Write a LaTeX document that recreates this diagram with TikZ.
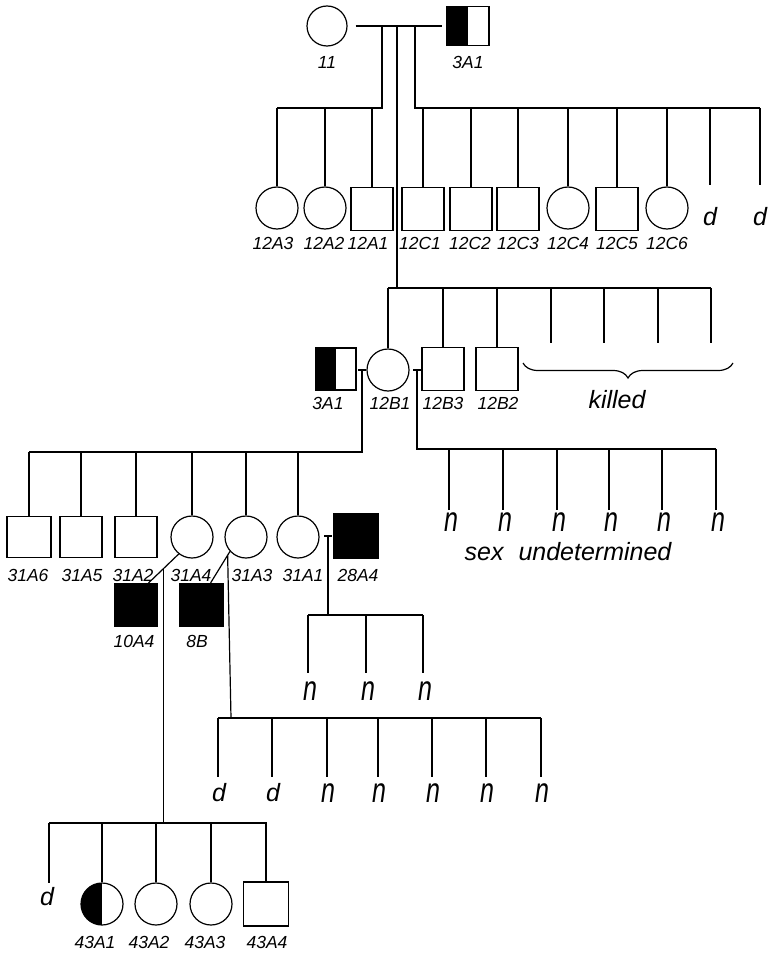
\documentclass[tikz,border=0pt]{standalone}
\usepackage{fontspec}
\setmainfont{Liberation Sans}
\usepackage{graphicx}
\usetikzlibrary{decorations.pathreplacing,calc}
\newcommand{\tn}{\scalebox{1}[1.4]{n}}
\begin{document}
\begin{tikzpicture}[x=1pt,y=-1pt,line width=1.2pt,
  fem/.style={circle,draw,minimum size=42pt,inner sep=0pt},
  mal/.style={rectangle,draw,minimum width=42pt,minimum height=43pt,inner sep=0pt},
  aff/.style={fill=black},
  half/.style={path picture={\fill[black] (path picture bounding box.south west) rectangle (path picture bounding box.north);}},
  lab/.style={font=\fontsize{17.5}{17.5}\selectfont\itshape,inner sep=0pt},
  letr/.style={font=\fontsize{25}{25}\selectfont\itshape,inner sep=0pt,anchor=north},
  bigtxt/.style={font=\fontsize{25}{25}\selectfont\itshape,inner sep=0pt},
  tick/.style={line width=1.2pt}]
\useasboundingbox (0,0) rectangle (775,955);
% ---------- generation 1
\node[fem,minimum size=40pt] (p11) at (327,26) {};
\node[mal,half,minimum height=39pt] (p3A1) at (468,26) {};
\node[lab] (l11) at (327,62) {11};
\node[lab] (l3A1) at (468,62) {3A1};
\draw ([xshift=8pt]p11.east) -- ([xshift=-4pt]p3A1.west);
\coordinate (a1) at (382,27);
\coordinate (a2) at (397,27);
\coordinate (a3) at (415,27);
\coordinate (sL) at (277,108);
\coordinate (sR) at (760,108);
\draw (a1) -- (a1 |- sL) -- (sL);
\draw (a3) -- (a3 |- sR) -- (sR);
% ---------- generation 2
\node[fem] (p12A3) at (277,208) {};
\node[fem] (p12A2) at (325,208) {};
\node[mal] (p12A1) at (372,209) {};
\node[mal] (p12C1) at (423,209) {};
\node[mal] (p12C2) at (471,209) {};
\node[mal] (p12C3) at (518,209) {};
\node[fem] (p12C4) at (568,208) {};
\node[mal] (p12C5) at (617,209) {};
\node[fem] (p12C6) at (667,208) {};
\node[letr] (d1) at (710,207) {d};
\node[letr] (d2) at (760,207) {d};
\foreach \n in {12A3,12A2,12A1}{\draw (p\n |- sL) -- (p\n);}
\foreach \n in {12C1,12C2,12C3,12C4,12C5,12C6}{\draw (p\n |- sR) -- (p\n);}
\foreach \n in {d1,d2}{\draw (\n |- sR) -- ([yshift=22pt]\n.north);}
\foreach \n/\x in {12A3/273,12A2/324,12A1/368,12C1/420,12C2/470,12C3/518,12C4/568,12C5/617,12C6/667}{
  \node[lab] (l\n) at (\x,243) {\n};}
% ---------- generation 3
\coordinate (s3L) at (388,288);
\coordinate (s3R) at (711,288);
\draw (a2) -- (a2 |- s3L);
\draw (s3L) -- (s3R);
\node[mal,half,minimum width=40pt,minimum height=42pt] (q3A1) at (336,369) {};
\node[fem] (p12B1) at (388,370) {};
\node[mal] (p12B3) at (443,369) {};
\node[mal] (p12B2) at (497,369) {};
\foreach \n in {12B1,12B3,12B2}{\draw (p\n |- s3L) -- (p\n);}
\foreach \i/\x in {1/551,2/604,3/658,4/711}{
  \coordinate (k\i) at (\x,343);
  \draw (k\i |- s3L) -- (k\i);}
\coordinate (b1) at (523,363);
\coordinate (b2) at (733,363);
\draw[decorate,decoration={brace,mirror,amplitude=15pt,aspect=0.5}] (b1) -- (b2);
\node[bigtxt] (killed) at (617,400) {killed};
\node[lab] (lq3A1) at (328,403) {3A1};
\node[lab] (l12B1) at (390,403) {12B1};
\node[lab] (l12B3) at (443,403) {12B3};
\node[lab] (l12B2) at (498,403) {12B2};
% matings of generation 3
\coordinate (T1) at (362,370);
\coordinate (T2) at (417,370);
\coordinate (s4L) at (29,452);
\coordinate (s4R) at (716,449);
\draw[tick] ([xshift=-4pt]T1) -- ([xshift=4pt]T1);
\draw[tick] ([xshift=-4pt]T2) -- ([xshift=4pt]T2);
\draw (T1) -- (T1 |- s4L) -- (s4L);
\draw (T2) -- (T2 |- s4R) -- (s4R);
% ---------- generation 4 (left)
\node[mal,minimum width=44pt,minimum height=41pt] (p31A6) at (29,537) {};
\node[mal,minimum height=41pt] (p31A5) at (81,537) {};
\node[mal,minimum height=41pt] (p31A2) at (136,537) {};
\node[fem] (p31A4) at (192,537) {};
\node[fem] (p31A3) at (246,537) {};
\node[fem] (p31A1) at (298,537) {};
\node[mal,aff,minimum width=44pt,minimum height=44pt] (p28A4) at (356,536) {};
\foreach \n in {31A6,31A5,31A2,31A4,31A3,31A1}{\draw (p\n |- s4L) -- (p\n);}
\foreach \n/\x in {31A6/28,31A5/82,31A2/133,31A4/191,31A3/252,31A1/303,28A4/358}{
  \node[lab] (l\n) at (\x,575) {\n};}
% ---------- generation 4 (right)
\foreach \i/\x in {1/449,2/503,3/557,4/609,5/662,6/716}{
  \node[letr] (n\i) at (\x+2,512) {\tn};
  \draw (\x,449) coordinate (c\i) -- ([yshift=2pt]n\i.north -| c\i);}
\node[bigtxt] (sexu) at (568,552) {sex\hspace{0.6em}undetermined};
% mating 31A1 x 28A4
\coordinate (T3) at (328,536);
\coordinate (s5a) at (308,615);
\coordinate (s5b) at (423,615);
\draw[tick] ([xshift=-4pt]T3) -- ([xshift=4pt]T3);
\draw (T3) -- (T3 |- s5a);
\draw (s5a) -- (s5b);
\foreach \i/\x in {1/308,2/366,3/423}{
  \node[letr] (m\i) at (\x+2,681) {\tn};
  \draw (\x,615) coordinate (e\i) -- ([yshift=8pt]m\i.north -| e\i);}
% spouses 10A4 and 8B
\node[mal,aff] (p10A4) at (136,605) {};
\node[mal,aff,minimum width=43pt] (p8B) at (201.5,605) {};
\node[lab] (l10A4) at (134,641) {10A4};
\node[lab] (l8B) at (197,641) {8B};
\draw (p31A4.232) -- ([xshift=-9pt]p10A4.north east);
\draw (p31A3.222) -- ([xshift=-13pt]p8B.north east);
\coordinate (mid1) at ($(p31A4.232)!0.5!([xshift=-9pt]p10A4.north east)$);
\coordinate (mid2) at ($(p31A3.222)!0.12!([xshift=-13pt]p8B.north east)$);
% offspring of 31A3 x 8B
\coordinate (s7L) at (218,718);
\coordinate (s7R) at (541,718);
\coordinate (j7) at (231,718);
\draw (mid2) -- (j7);
\draw (s7L) -- (s7R);
\foreach \i/\x/\t in {1/218/d,2/272/d,3/327/\tn,4/378/\tn,5/432/\tn,6/486/\tn,7/541/\tn}{
  \node[letr] (o\i) at (\x+1,783) {\t};
  \draw (\x,718) coordinate (f\i) -- ([yshift=6pt]o\i.north -| f\i);}
% ---------- generation 5
\coordinate (s6L) at (49,823);
\coordinate (s6R) at (267,823);
\draw (mid1) -- (mid1 |- s6L);
\draw (s6L) -- (s6R);
\node[letr] (d5) at (47,887) {d};
\draw (s6L) -- ([yshift=4pt]d5.north -| s6L);
\node[fem,half] (p43A1) at (102,904) {};
\node[fem] (p43A2) at (156,904) {};
\node[fem] (p43A3) at (211,904) {};
\node[mal,minimum width=45pt,minimum height=44pt] (p43A4) at (266,904) {};
\foreach \n in {43A1,43A2,43A3,43A4}{\draw (p\n |- s6L) -- (p\n);}
\foreach \n/\x in {43A1/95,43A2/149,43A3/205,43A4/267}{
  \node[lab] (l\n) at (\x,942) {\n};}
\end{tikzpicture}
\end{document}
